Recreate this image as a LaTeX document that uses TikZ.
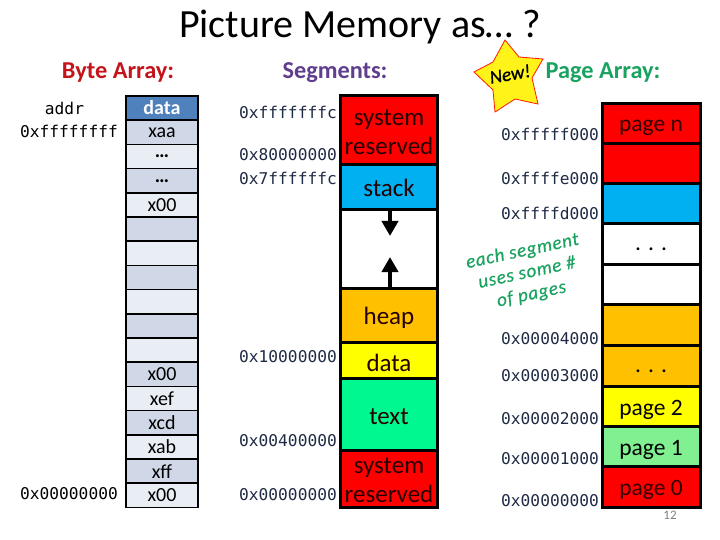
\documentclass[tikz,border=0pt]{standalone}
\usepackage{fontspec}
\setmainfont{Carlito}
\newfontfamily\addrfont{DejaVu Sans Mono}
\newfontfamily\notefont[ItalicFont=Carlito Italic,LetterSpace=4,FakeBold=0.4]{Carlito}
\usetikzlibrary{arrows.meta}
\definecolor{bytered}{HTML}{C5131A}
\definecolor{segpurple}{HTML}{5F3E8E}
\definecolor{pagegreen}{HTML}{1AA260}
\definecolor{navyink}{HTML}{1F2A44}
\definecolor{hdrblue}{HTML}{4F81BD}
\definecolor{altdark}{HTML}{D0D8E8}
\definecolor{altlight}{HTML}{E9EDF4}
\definecolor{segred}{HTML}{FF0000}
\definecolor{segblue}{HTML}{00B0F0}
\definecolor{segorange}{HTML}{FFC000}
\definecolor{segyellow}{HTML}{FFFF00}
\definecolor{seggreen}{HTML}{00F890}
\definecolor{pagelime}{HTML}{80F090}
\newcommand\dropby[2]{\raisebox{-#1pt}[\height][\depth]{#2}}
\tikzset{
  bytecell/.style={draw=black,line width=1.6pt,minimum width=72pt,minimum height=24.2pt,inner sep=0pt,outer sep=0pt,font=\fontsize{20}{20}\selectfont,text=black},
  segcell/.style={draw=black,line width=3pt,minimum width=97pt,inner sep=0pt,outer sep=0pt,font=\fontsize{25}{29}\selectfont,text=black!85!red,align=center},
  pagecell/.style={draw=black,line width=3pt,minimum width=98pt,minimum height=40.4pt,inner sep=0pt,outer sep=0pt,font=\fontsize{23.5}{25}\selectfont,text=black},
  addrlabel/.style={font=\addrfont\fontsize{16.2}{16.2}\selectfont,inner sep=0pt,text=navyink},
  heading/.style={font=\bfseries\fontsize{24.3}{24}\selectfont,inner sep=0pt},
  growarrow/.style={line width=4pt,-{Triangle[length=15pt,width=16pt]}}
}
\begin{document}
\begin{tikzpicture}[x=1pt,y=-1pt]
\useasboundingbox (0,0) rectangle (720,540);
\fill[white] (0,0) rectangle (720,540);
\node[font=\fontsize{40}{40}\selectfont,inner sep=0pt] (title) at (360,27) {Picture Memory as… ?};
\node[heading,text=bytered] (hbyte) at (118,73) {Byte Array:};
\node[heading,text=segpurple] (hseg) at (335,73) {Segments:};
\node[heading,text=pagegreen] (hpage) at (603,73) {Page Array:};
% Byte array
\node[bytecell,fill=hdrblue,text=white,font=\bfseries\fontsize{20}{20}\selectfont] (b0) at (162,108) {data};
\node[bytecell,fill=altdark] (b1) at (162,132.3) {xaa};
\node[bytecell,fill=altlight,font=\bfseries\fontsize{20}{20}\selectfont] (b2) at (162,156.5) {…};
\node[bytecell,fill=altdark,font=\bfseries\fontsize{20}{20}\selectfont] (b3) at (162,180.7) {…};
\node[bytecell,fill=altlight] (b4) at (162,204.9) {x00};
\node[bytecell,fill=altdark] (b5) at (162,229.1) {};
\node[bytecell,fill=altlight] (b6) at (162,253.3) {};
\node[bytecell,fill=altdark] (b7) at (162,277.5) {};
\node[bytecell,fill=altlight] (b8) at (162,301.7) {};
\node[bytecell,fill=altdark] (b9) at (162,325.9) {};
\node[bytecell,fill=altlight] (b10) at (162,350.1) {};
\node[bytecell,fill=altdark] (b11) at (162,374.3) {x00};
\node[bytecell,fill=altlight] (b12) at (162,398.5) {xef};
\node[bytecell,fill=altdark] (b13) at (162,422.7) {xcd};
\node[bytecell,fill=altlight] (b14) at (162,446.9) {xab};
\node[bytecell,fill=altdark] (b15) at (162,471.1) {xff};
\node[bytecell,fill=altlight] (b16) at (162,495.3) {x00};
\node[addrlabel,text=black] (aaddr) at (64.5,108) {addr};
\node[addrlabel,text=black] (atop) at (69,131) {0xffffffff};
\node[addrlabel,text=black] (abot) at (69,494) {0x00000000};
% Segments
\node[segcell,fill=segred,minimum height=69pt] (s1) at (389,130.5) {\dropby{2}{system}\\\dropby{2}{reserved}};
\node[segcell,fill=segblue,minimum height=45pt] (s2) at (389,187.5) {stack};
\node[segcell,fill=white,minimum height=78pt] (s3) at (389,249) {};
\node[segcell,fill=segorange,minimum height=54pt] (s4) at (389,315) {\dropby{3}{heap}};
\node[segcell,fill=segyellow,minimum height=36pt] (s5) at (389,360) {\dropby{3}{data}};
\node[segcell,fill=seggreen,minimum height=72pt] (s6) at (389,414) {\dropby{3}{text}};
\node[segcell,fill=segred,minimum height=57pt] (s7) at (389,478.5) {\dropby{2}{system}\\\dropby{2}{reserved}};
\coordinate (downtip) at (390,236);
\coordinate (uptip) at (390,257);
\draw[growarrow] (s2.south -| downtip) -- (downtip);
\draw[growarrow] (s4.north -| uptip) -- (uptip);
\node[addrlabel] (sa1) at (288,112) {0xfffffffc};
\node[addrlabel] (sa2) at (288,155) {0x80000000};
\node[addrlabel] (sa3) at (288,178) {0x7ffffffc};
\node[addrlabel] (sa4) at (288,357) {0x10000000};
\node[addrlabel] (sa5) at (288,441) {0x00400000};
\node[addrlabel] (sa6) at (288,495) {0x00000000};
% Star
\draw[draw=red!80!orange,line width=0.8pt,fill=yellow!90!white,line join=miter]
  (505,40) -- (519,57) -- (543,59) -- (532,78) -- (538,104) -- (515,99) -- (495,112) -- (493,90) -- (474,72) -- (493,62) -- cycle;
\node[font=\itshape\fontsize{19}{19}\selectfont,rotate=10,inner sep=0pt,text=black] (newmark) at (510,74) {\addfontfeature{FakeBold=1}New!};
% Pages
\node[pagecell,fill=segred,text=black!80!red] (p1) at (651,123.5) {\dropby{4}{page n}};
\node[pagecell,fill=segred] (p2) at (651,164) {};
\node[pagecell,fill=segblue] (p3) at (651,204) {};
\node[pagecell,fill=white] (p4) at (651,244) {\dropby{5}{. . .}};
\node[pagecell,fill=white] (p5) at (651,284.5) {};
\node[pagecell,fill=segorange] (p6) at (651,325) {};
\node[pagecell,fill=segorange] (p7) at (651,366) {\dropby{5}{. . .}};
\node[pagecell,fill=segyellow] (p8) at (651,407) {\dropby{3}{page 2}};
\node[pagecell,fill=pagelime] (p9) at (651,447) {\dropby{3}{page 1}};
\node[pagecell,fill=segred,text=black!80!red] (p10) at (651,487) {\dropby{3}{page 0}};
\node[addrlabel] (pa1) at (550,134) {0xfffff000};
\node[addrlabel] (pa2) at (550,178) {0xffffe000};
\node[addrlabel] (pa3) at (550,213) {0xffffd000};
\node[addrlabel] (pa4) at (550,339) {0x00004000};
\node[addrlabel] (pa5) at (550,376) {0x00003000};
\node[addrlabel] (pa6) at (550,419) {0x00002000};
\node[addrlabel] (pa7) at (550,459) {0x00001000};
\node[addrlabel] (pa8) at (550,501) {0x00000000};
% Slanted note
\node[rotate=12,align=center,text=pagegreen,inner sep=0pt,font=\notefont\itshape\fontsize{19}{22}\selectfont] (note) at (527,273) {each segment\\uses some \#\\of pages};
\node[font=\fontsize{13}{13}\selectfont,text=gray,inner sep=0pt] (pgnum) at (670,515) {12};
\end{tikzpicture}
\end{document}
